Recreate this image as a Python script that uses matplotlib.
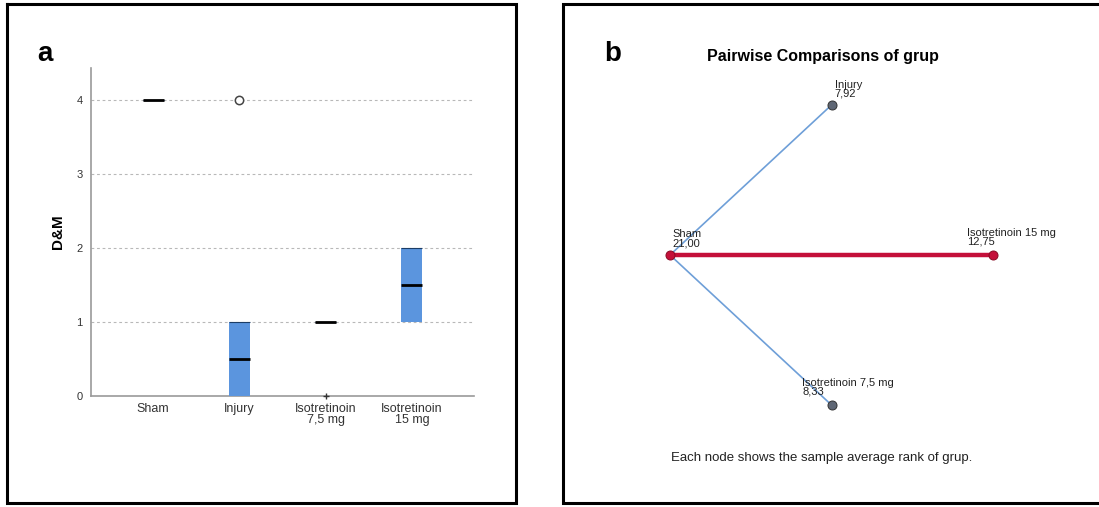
import numpy as np
import matplotlib
matplotlib.use("Agg")
import matplotlib.pyplot as plt

plt.rcParams['font.family'] = ['Liberation Sans', 'DejaVu Sans']

W, H = 1099, 507

# ---- panel a data (box summaries) ----
groups = ["Sham", "Injury", "Isotretinoin\n7,5 mg", "Isotretinoin\n15 mg"]
q1 = [4, 0, 1, 1]
median = [4, 0.5, 1, 1.5]
q3 = [4, 1, 1, 2]
outlier_group = [1]
outlier_value = [4]
extreme_group = [2]
extreme_value = [0]
y_ticks = [0, 1, 2, 3, 4]

# ---- panel b data ----
nodes = ["Sham", "Injury", "Isotretinoin 7,5 mg", "Isotretinoin 15 mg"]
mean_rank = ["21,00", "7,92", "8,33", "12,75"]
node_significant = [True, False, False, True]
edges = [(0, 1), (0, 2), (0, 3)]
edge_significant = [False, False, True]

BOX_BLUE = '#5b95de'
BLUE_LINE = '#6e9fd8'
RED = '#c4103a'
NODE_GRAY = '#5f6775'


def px(x0, y0, x1, y1):
    # pixel box (left, top, right, bottom) -> figure fraction rect
    return [x0 / W, 1 - y1 / H, (x1 - x0) / W, (y1 - y0) / H]


fig = plt.figure(figsize=(W / 100, H / 100), dpi=100)
fig.patch.set_facecolor('white')

# panel frames
frame = fig.add_axes([0, 0, 1, 1])
frame.set_xlim(0, W)
frame.set_ylim(H, 0)
frame.axis('off')
frame.plot([7, 516, 516, 7, 7], [4, 4, 503, 503, 4], color='black', lw=2.2,
           solid_joinstyle='miter')
frame.plot([1100, 563, 563, 1100], [4, 4, 503, 503], color='black', lw=2.2,
           solid_joinstyle='miter')
frame.text(45, 61, "a", fontsize=20, fontweight='bold', ha='center', va='baseline')
frame.text(613, 61, "b", fontsize=20, fontweight='bold', ha='center', va='baseline')

# ---- panel a ----
ax = fig.add_axes(px(91, 68, 474, 396))
x = np.arange(len(groups))
bw = 0.245
ax.bar(x, np.array(q3) - np.array(q1), bottom=q1, width=bw, color=BOX_BLUE,
       edgecolor='none', zorder=3)
ax.hlines(median, x - bw / 2, x + bw / 2, color='black', lw=2.0, zorder=4)
ax.hlines(q3, x - bw / 2, x + bw / 2, color='#1c3d66', lw=0.8, zorder=3)
ax.plot(outlier_group, outlier_value, 'o', ms=6, mfc='white', mec='#444444', mew=1.1,
        zorder=5)
ax.plot(extreme_group, extreme_value, '+', ms=5, color='#333333', mew=1.0, zorder=5,
        clip_on=False)

ax.set_xlim(-0.72, 3.72)
ax.set_ylim(0, 4.43)
ax.set_yticks(y_ticks)
ax.set_xticks(x)
ax.set_xticklabels(groups, fontsize=9, color='#333333', linespacing=0.95)
ax.tick_params(axis='y', length=0, pad=6, labelsize=8, labelcolor='#333333')
ax.tick_params(axis='x', length=0, pad=5)
for y in y_ticks[1:]:
    ax.axhline(y, color='#b8b8b8', lw=0.8, ls=(0, (2.5, 2.5)), zorder=1)
for s in ['top', 'right']:
    ax.spines[s].set_visible(False)
for s in ['left', 'bottom']:
    ax.spines[s].set_color('#9a9a9a')
    ax.spines[s].set_linewidth(1.2)
ax.set_ylabel("D&M", fontsize=11, fontweight='bold', labelpad=8)

# ---- panel b ----
bx = fig.add_axes(px(670, 105, 993, 405))
bx.set_xlim(-1, 1)
bx.set_ylim(-1, 1)
bx.axis('off')
# diamond layout: Sham left, Injury top, 7,5 mg bottom, 15 mg right
angles = np.deg2rad([180, 90, 270, 0])
nx = np.cos(angles)
ny = np.sin(angles)
for (i, j), sig in zip(edges, edge_significant):
    bx.plot([nx[i], nx[j]], [ny[i], ny[j]],
            color=RED if sig else BLUE_LINE,
            lw=3.2 if sig else 1.2, zorder=2, clip_on=False,
            solid_capstyle='round')
for k in range(len(nodes)):
    c = RED if node_significant[k] else NODE_GRAY
    bx.plot(nx[k], ny[k], 'o', ms=6.5, mfc=c,
            mec='#8a0a25' if node_significant[k] else '#333333',
            mew=0.7, zorder=3, clip_on=False)
label_offsets = [(2, 7), (3, 6), (-29, 8), (-26, 8)]
for k in range(len(nodes)):
    bx.annotate(f"{nodes[k]}\n{mean_rank[k]}", (nx[k], ny[k]),
                xytext=label_offsets[k], textcoords='offset pixels',
                ha='left', va='bottom', fontsize=8, color='#222222',
                linespacing=0.85, zorder=4, annotation_clip=False)

fig.text(823 / W, 1 - 56 / H, "Pairwise Comparisons of grup", fontsize=11.5,
         fontweight='bold', ha='center', va='center')
fig.text(822 / W, 1 - 458 / H, "Each node shows the sample average rank of grup.",
         fontsize=9.5, ha='center', va='center', color='#222222')

fig.savefig("out.png", dpi=100, facecolor='white')
